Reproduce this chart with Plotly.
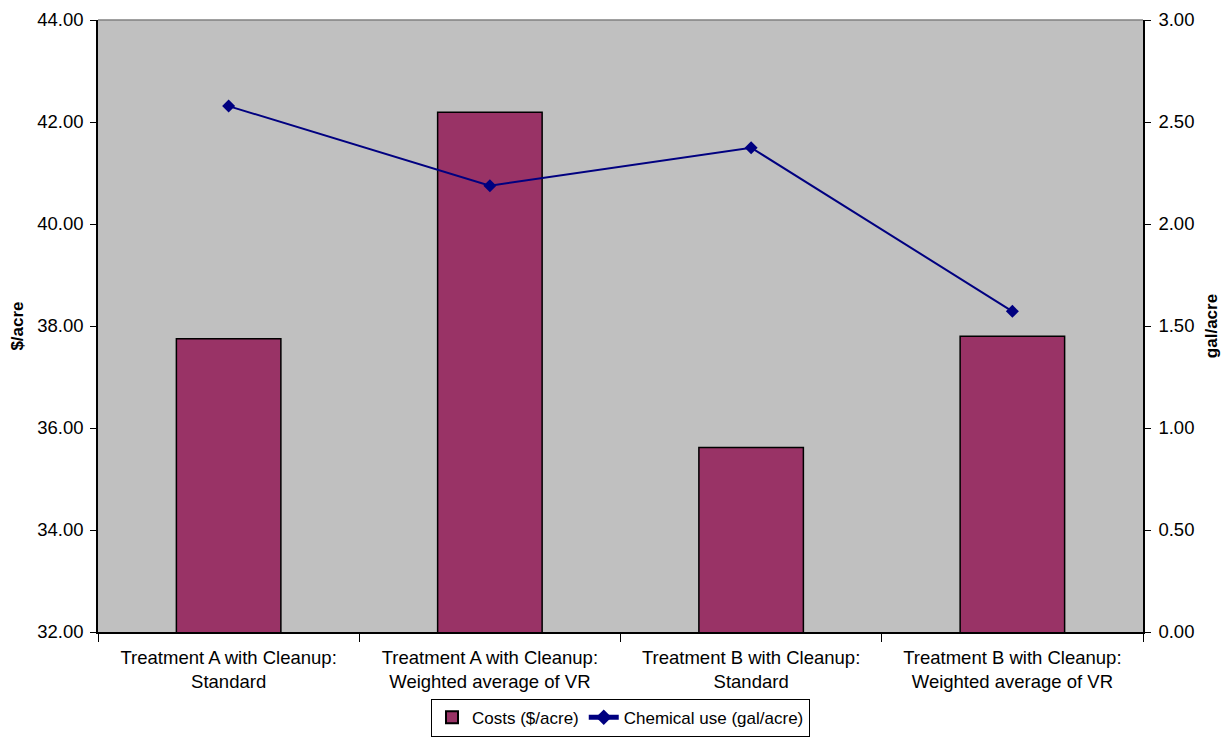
import plotly.graph_objects as go

categories = [
    "Treatment A with Cleanup:<br>Standard",
    "Treatment A with Cleanup:<br>Weighted average of VR",
    "Treatment B with Cleanup:<br>Standard",
    "Treatment B with Cleanup:<br>Weighted average of VR",
]
costs = [37.75, 42.19, 35.62, 37.80]          # $/acre
chemical_use = [2.578, 2.188, 2.374, 1.572]   # gal/acre

left_ticks = [32, 34, 36, 38, 40, 42, 44]
right_ticks = [0, 0.5, 1.0, 1.5, 2.0, 2.5, 3.0]

FONT = "Liberation Sans, Arial, sans-serif"
FS = 18.5

fig = go.Figure()
fig.add_trace(go.Bar(
    x=categories, y=costs, name="Costs ($/acre)",
    marker=dict(color="#993366", line=dict(color="#000000", width=1.5)),
    width=0.4,
))
fig.add_trace(go.Scatter(
    x=categories, y=chemical_use, name="Chemical use (gal/acre)",
    yaxis="y2", mode="lines+markers",
    line=dict(color="#000080", width=2),
    marker=dict(symbol="diamond", size=10, color="#000080"),
))

fig.update_layout(
    width=1223, height=738,
    margin=dict(l=98, r=80, t=20, b=106, autoexpand=False),
    paper_bgcolor="white", plot_bgcolor="#C0C0C0",
    font=dict(family=FONT, size=FS, color="black"),
    xaxis=dict(
        type="category", showgrid=False, showline=True, linecolor="black", linewidth=1.5,
        ticks="outside", tickson="boundaries", ticklen=8, tickcolor="black",
        tickfont=dict(size=FS), range=[-0.5, 3.5], automargin=False,
        ticklabelstandoff=8,
    ),
    yaxis=dict(
        range=[32, 44], tickvals=left_ticks,
        ticktext=[f"{v:.2f}" for v in left_ticks],
        showgrid=False, showline=True, linecolor="black", linewidth=1.5,
        ticks="outside", ticklen=6, tickcolor="black", zeroline=False,
        automargin=False, ticklabelstandoff=3,
        title=dict(text="<b>$/acre</b>", font=dict(size=17), standoff=9),
    ),
    yaxis2=dict(
        range=[0, 3], tickvals=right_ticks,
        ticktext=[f"{v:.2f}" for v in right_ticks],
        overlaying="y", side="right",
        showgrid=False, showline=True, linecolor="black", linewidth=1.5,
        ticks="outside", ticklen=6, tickcolor="black", zeroline=False,
        automargin=False, ticklabelstandoff=4,
        title=dict(text="<b>gal/acre</b>", font=dict(size=17), standoff=12),
    ),
    legend=dict(
        orientation="h", x=0.5, xanchor="center", y=-0.171, yanchor="bottom",
        bordercolor="black", borderwidth=1, bgcolor="white",
        font=dict(size=17), itemsizing="constant", tracegroupgap=0,
    ),
    showlegend=True,
)

# thin grey frame line along the top of the plot area
fig.add_shape(type="line", xref="paper", yref="paper", x0=0, x1=1, y0=1, y1=1,
              line=dict(color="#808080", width=1.5))

fig.write_html("out.html")
